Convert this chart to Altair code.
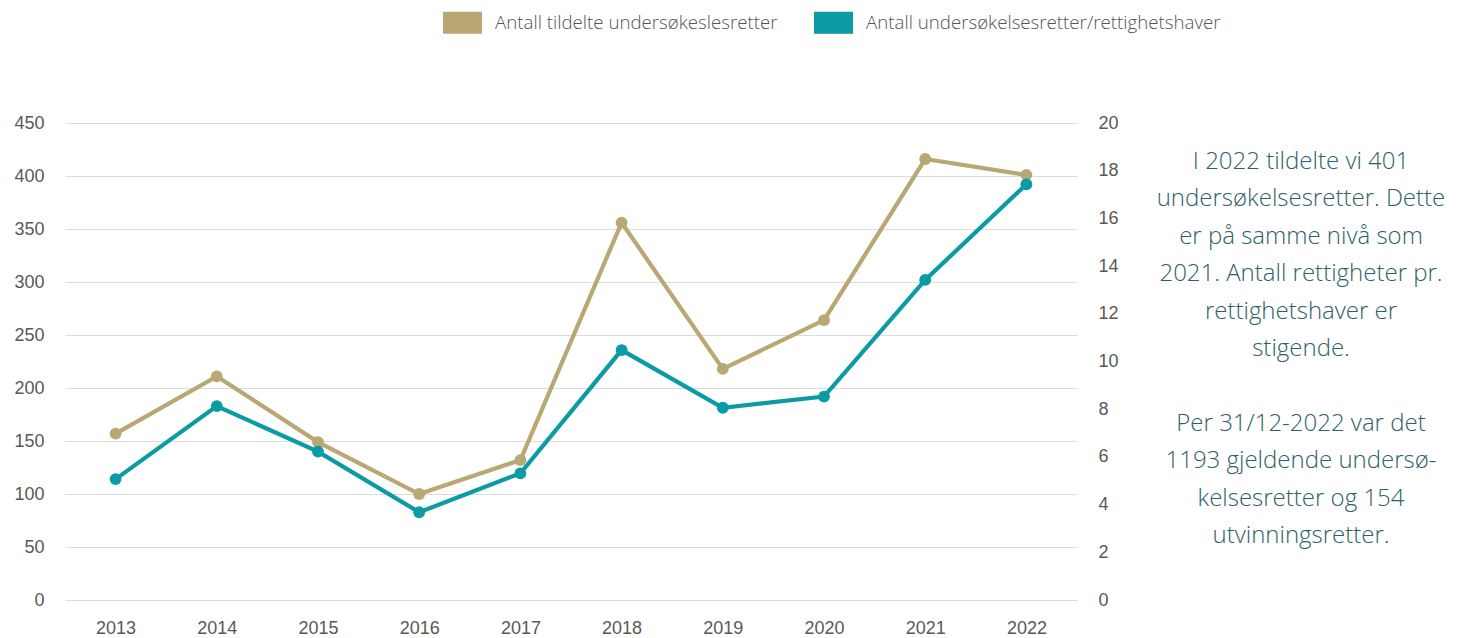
import altair as alt
import pandas as pd

years = ["2013", "2014", "2015", "2016", "2017", "2018", "2019", "2020", "2021", "2022"]
tildelte = [157, 211, 149, 100, 132, 356, 218, 264, 416, 401]
per_haver = [5.07, 8.13, 6.22, 3.68, 5.31, 10.48, 8.06, 8.53, 13.42, 17.43]

series_names = ["Antall tildelte undersøkeslesretter", "Antall undersøkelsesretter/rettighetshaver"]
series_colors = ["#B9A774", "#0A9BA5"]

left_ticks = [0, 50, 100, 150, 200, 250, 300, 350, 400, 450]
right_ticks = [0, 2, 4, 6, 8, 10, 12, 14, 16, 18, 20]

annotation_para1 = [
    "I 2022 tildelte vi 401",
    "undersøkelsesretter. Dette",
    "er på samme nivå som",
    "2021. Antall rettigheter pr.",
    "rettighetshaver er",
    "stigende.",
]
annotation_para2 = [
    "Per 31/12-2022 var det",
    "1193 gjeldende undersø-",
    "kelsesretter og 154",
    "utvinningsretter.",
]

df = pd.DataFrame(
    {
        "year": years * 2,
        "value": tildelte + per_haver,
        "series": [series_names[0]] * len(years) + [series_names[1]] * len(years),
    }
)

LABEL_FONT = "Liberation Sans"
LABEL_COLOR = "#595959"
LINE_H = 37.4

color = alt.Color(
    "series:N",
    scale=alt.Scale(domain=series_names, range=series_colors),
    legend=alt.Legend(
        title=None,
        orient="none",
        legendX=378,
        legendY=-120,
        direction="horizontal",
        symbolType="M-1,-0.564H1V0.564H-1Z",
        symbolSize=1521,
        symbolStrokeWidth=0,
        symbolOpacity=1,
        labelFont="Open Sans",
        labelFontWeight=300,
        labelFontSize=18.7,
        labelColor="#555555",
        labelOffset=13,
        columnPadding=36,
        padding=0,
        labelLimit=600,
    ),
)

x = alt.X(
    "year:O",
    title=None,
    sort=years,
    scale=alt.Scale(type="point", padding=0.5),
    axis=alt.Axis(
        labelAngle=0,
        ticks=False,
        domain=False,
        grid=False,
        labelFont=LABEL_FONT,
        labelFontSize=18,
        labelColor=LABEL_COLOR,
        labelPadding=19,
    ),
)

base = alt.Chart(df)

y_left = alt.Y(
    "value:Q",
    title=None,
    scale=alt.Scale(domain=[0, 450], nice=False),
    axis=alt.Axis(
        values=left_ticks,
        orient="left",
        ticks=False,
        domain=False,
        grid=True,
        gridColor="#DCDCDC",
        gridWidth=1,
        labelFont=LABEL_FONT,
        labelFontSize=18,
        labelColor=LABEL_COLOR,
        labelPadding=21,
    ),
)

y_right = alt.Y(
    "value:Q",
    title=None,
    scale=alt.Scale(domain=[0, 20], nice=False),
    axis=alt.Axis(
        values=right_ticks,
        orient="right",
        ticks=False,
        domain=False,
        grid=False,
        labelFont=LABEL_FONT,
        labelFontSize=18,
        labelColor=LABEL_COLOR,
        labelPadding=21,
    ),
)

left_data = base.transform_filter(alt.datum.series == series_names[0])
right_data = base.transform_filter(alt.datum.series == series_names[1])

left_layer = alt.layer(
    left_data.mark_line(strokeWidth=4.2).encode(x=x, y=y_left, color=color),
    left_data.mark_point(filled=True, size=140, opacity=1).encode(x=x, y=y_left, color=color),
)
right_layer = alt.layer(
    right_data.mark_line(strokeWidth=4.2).encode(x=x, y=y_right, color=color),
    right_data.mark_point(filled=True, size=140, opacity=1).encode(x=x, y=y_right, color=color),
)


def note(lines, y_px):
    return alt.Chart(alt.Data(values=[{}])).mark_text(
        align="center",
        baseline="alphabetic",
        font="Open Sans",
        fontWeight=300,
        fontSize=24,
        lineHeight=LINE_H,
        color="#2E6167",
    ).encode(
        x=alt.value(1236),
        y=alt.value(y_px),
        text=alt.value(lines),
    )


chart = (
    alt.layer(
        left_layer,
        right_layer,
        note(annotation_para1, 46),
        note(annotation_para2, 46 + 7 * LINE_H),
    )
    .resolve_scale(y="independent")
    .properties(
        width=1012,
        height=477,
        autosize=alt.AutoSizeParams(type="none"),
        padding={"left": 57, "top": 115, "right": 370, "bottom": 38},
    )
    .configure_view(stroke=None)
)

chart.save("out.html", embed_options={"renderer": "svg", "actions": False})
